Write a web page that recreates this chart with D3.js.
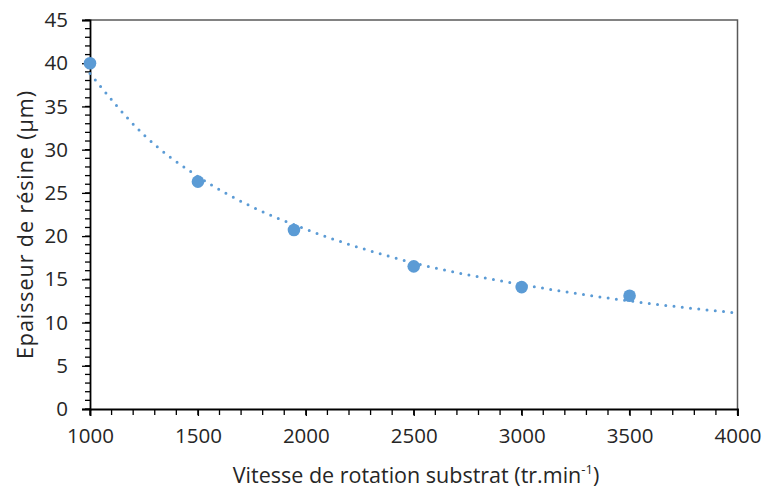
<!DOCTYPE html>
<html><head><meta charset="utf-8">
<script src="https://cdn.jsdelivr.net/npm/d3@7"></script>
<style>
html,body{margin:0;padding:0;background:#fff;}
text{font-family:"Open Sans", sans-serif;fill:#262626;}
</style></head>
<body><svg id="c" width="763" height="490"></svg>
<script>
// Data
const speeds = [1000, 1500, 1945, 2500, 3000, 3500];
const thickness = [40.0, 26.3, 20.7, 16.5, 14.1, 13.1];
// Trendline (power) values
const trendSpeeds = [1000, 1250, 1500, 1750, 2000, 2500, 3000, 3500, 4000];
const trendThickness = [38.8, 31.7, 26.9, 23.4, 20.8, 16.9, 14.4, 12.5, 11.1];
const xTicks = [1000, 1500, 2000, 2500, 3000, 3500, 4000];
const yTicks = [0, 5, 10, 15, 20, 25, 30, 35, 40, 45];
const xTitle = "Vitesse de rotation substrat (tr.min";
const yTitle = "Epaisseur de résine (µm)";

const svg = d3.select("#c");
const L = 90, R = 737.5, T = 20, B = 409;
const x = d3.scaleLinear().domain([1000, 4000]).range([L, R]);
const y = d3.scaleLinear().domain([0, 45]).range([B, T]);
const color = "#5B9BD5";

// top & right border
svg.append("path").attr("d", `M${L},${T}H${R}V${B}`).attr("fill", "none")
  .attr("stroke", "#595959").attr("stroke-width", 1.5);

// minor ticks
const xMinor = d3.range(1000, 4001, 100);
const yMinor = d3.range(0, 46, 1);
svg.append("g").selectAll("line").data(xMinor).join("line")
  .attr("x1", d => x(d)).attr("x2", d => x(d)).attr("y1", B).attr("y2", B + 6)
  .attr("stroke", "#000").attr("stroke-width", 1.3);
svg.append("g").selectAll("line").data(yMinor).join("line")
  .attr("x1", L - 5).attr("x2", L).attr("y1", d => y(d)).attr("y2", d => y(d))
  .attr("stroke", "#000").attr("stroke-width", 1.3);

// axes
const xAxis = svg.append("g").attr("transform", `translate(0,${B})`)
  .call(d3.axisBottom(x).tickValues(xTicks).tickSize(7).tickPadding(12).tickFormat(d3.format("d")));
const yAxis = svg.append("g").attr("transform", `translate(${L},0)`)
  .call(d3.axisLeft(y).tickValues(yTicks).tickSize(8).tickPadding(14));
[xAxis, yAxis].forEach(g => {
  g.select(".domain").attr("stroke", "#000").attr("stroke-width", 1.8);
  g.selectAll(".tick line").attr("stroke", "#000").attr("stroke-width", 1.3);
  g.selectAll(".tick text").style("font-size", "20.5px").attr("fill", "#262626")
    .style("font-family", "'Open Sans', sans-serif");
});

// trendline
const line = d3.line().x(d => x(d[0])).y(d => y(d[1])).curve(d3.curveMonotoneX);
svg.append("path").datum(d3.zip(trendSpeeds, trendThickness)).attr("d", line)
  .attr("fill", "none").attr("stroke", color).attr("stroke-width", 3)
  .attr("stroke-linecap", "round").attr("stroke-dasharray", "0 8.3");

// markers
svg.append("g").selectAll("circle").data(d3.zip(speeds, thickness)).join("circle")
  .attr("cx", d => x(d[0])).attr("cy", d => y(d[1])).attr("r", 6.3).attr("fill", color);

// titles
const xt = svg.append("text").attr("x", 416).attr("y", 483)
  .attr("text-anchor", "middle").style("font-size", "21.5px").text(xTitle);
xt.append("tspan").attr("dy", -9).style("font-size", "13px").text("-1");
xt.append("tspan").attr("dy", 9).text(")");

svg.append("text").attr("transform", `translate(33,225) rotate(-90)`)
  .attr("text-anchor", "middle").style("font-size", "21.5px")
  .attr("textLength", 268).attr("lengthAdjust", "spacing").text(yTitle);
</script></body></html>
